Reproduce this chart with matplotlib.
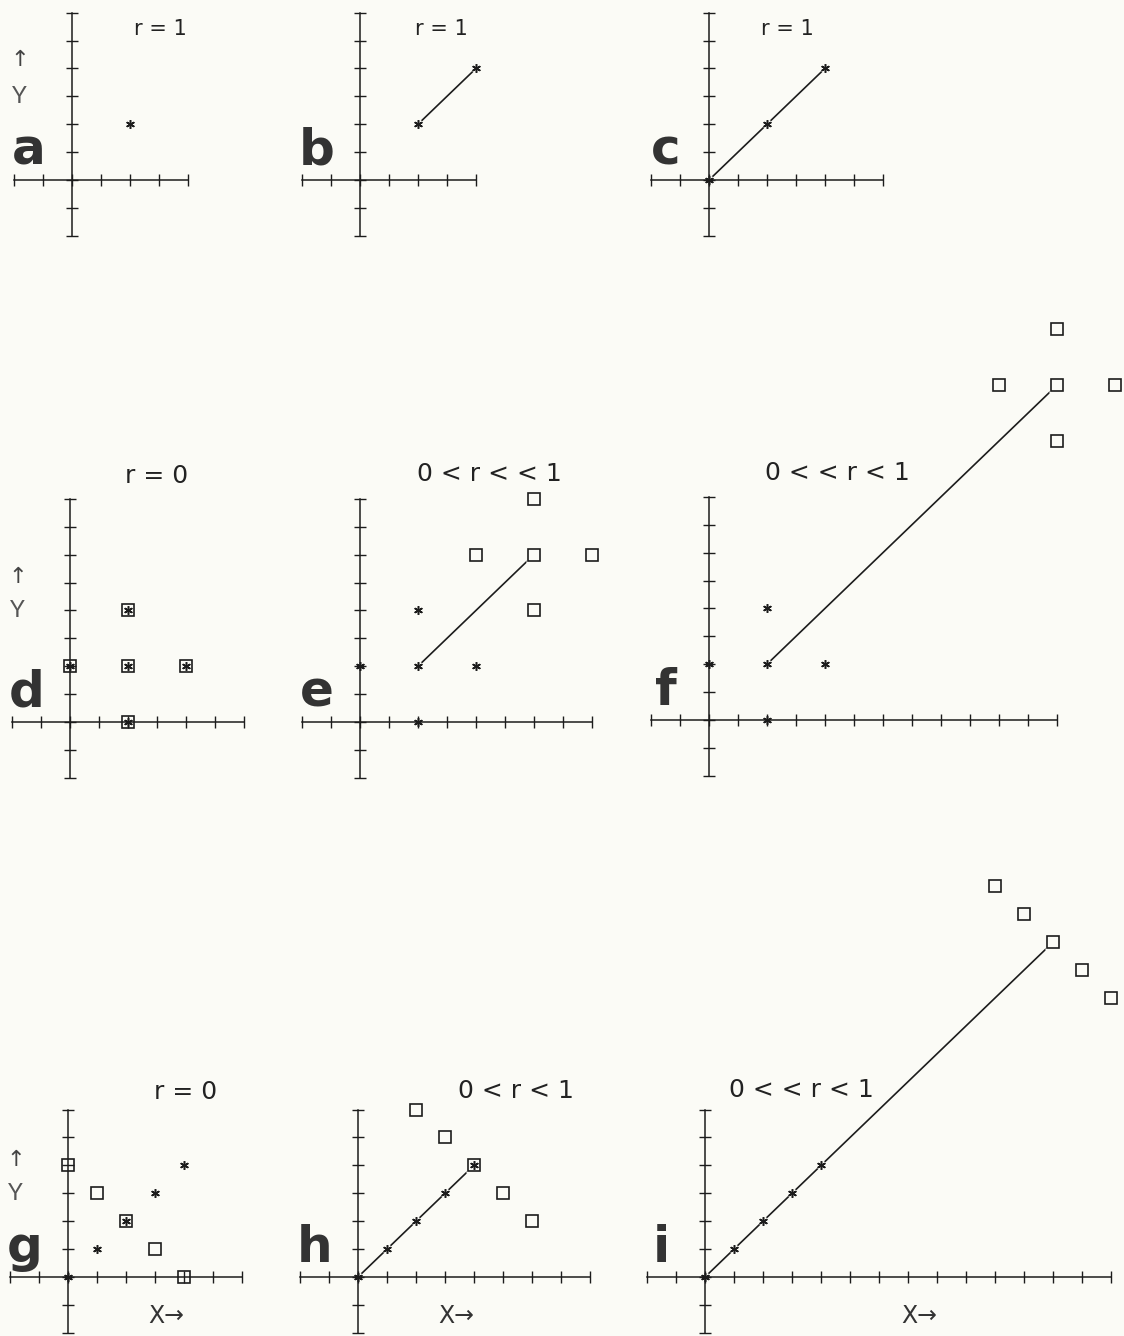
import matplotlib
matplotlib.use("Agg")
import matplotlib.pyplot as plt

# ---- data -------------------------------------------------------------
panel_letters = ["a", "b", "c", "d", "e", "f", "g", "h", "i"]
titles = ["r = 1", "r = 1", "r = 1",
          "r = 0", "0 < r < < 1", "0 < < r < 1",
          "r = 0", "0 < r < 1", "0 < < r < 1"]

# extent of the drawn X / Y axes (each runs from -2 up to this value)
x_extent = [4, 4, 6, 6, 8, 12, 6, 8, 14]
y_extent = [6, 6, 6, 8, 8, 8, 6, 6, 6]

# asterisk points
star_x = [[2], [2, 4], [0, 2, 4],
          [0, 2, 2, 2, 4], [0, 2, 2, 2, 4], [0, 2, 2, 2, 4],
          [0, 1, 2, 3, 4], [0, 1, 2, 3, 4], [0, 1, 2, 3, 4]]
star_y = [[2], [2, 4], [0, 2, 4],
          [2, 0, 2, 4, 2], [2, 0, 2, 4, 2], [2, 0, 2, 4, 2],
          [0, 1, 2, 3, 4], [0, 1, 2, 3, 4], [0, 1, 2, 3, 4]]

# open-square points
square_x = [[], [], [],
            [0, 2, 2, 2, 4], [4, 6, 6, 6, 8], [10, 12, 12, 12, 14],
            [0, 1, 2, 3, 4], [2, 3, 4, 5, 6], [10, 11, 12, 13, 14]]
square_y = [[], [], [],
            [2, 0, 2, 4, 2], [6, 4, 6, 8, 6], [12, 10, 12, 14, 12],
            [4, 3, 2, 1, 0], [6, 5, 4, 3, 2], [14, 13, 12, 11, 10]]

# regression line end points (None = no line)
line_x = [None, [2, 4], [0, 4], None, [2, 6], [2, 12], None, [0, 4], [0, 12]]
line_y = [None, [2, 4], [0, 4], None, [2, 6], [2, 12], None, [0, 4], [0, 12]]

# ---- layout -----------------------------------------------------------
W, H, DPI = 1124, 1336, 100
SX, SY = 29.0, 27.9          # pixels per unit
INK = "#1c1c1c"
BG = "#fbfbf6"

origins = [(72, 180), (360, 180), (709, 180),
           (70, 722), (360, 722), (709, 720),
           (68, 1277), (358, 1277), (705, 1277)]
title_pos = [(160, 29), (441, 29), (787, 29),
             (157, 476), (489, 474), (837, 473),
             (186, 1092), (516, 1091), (801, 1090)]
title_size = [15, 15, 15, 18, 18, 18, 18, 18, 18]

y_label_pos = {0: (4.3, 3.0), 3: (5.2, 4.0), 6: (4.2, 3.0)}
x_label_pos = {6: 3.4, 7: 3.4, 8: 7.4}

plt.rcParams["font.family"] = ["DejaVu Sans"]

fig = plt.figure(figsize=(W / DPI, H / DPI), dpi=DPI, facecolor=BG)

for k in range(9):
    ox, oy = origins[k]
    xmax, ymax = x_extent[k], y_extent[k]
    xlo, xhi = -2.8, xmax + 0.8
    ylo, yhi = -2.8, ymax + 0.8
    ax = fig.add_axes([(ox + xlo * SX) / W,
                       1 - (oy - ylo * SY) / H,
                       (xhi - xlo) * SX / W,
                       (yhi - ylo) * SY / H])
    ax.set_xlim(xlo, xhi)
    ax.set_ylim(ylo, yhi)
    ax.patch.set_visible(False)

    # cross-shaped axes with tick marks
    for s in ("top", "right"):
        ax.spines[s].set_visible(False)
    for s in ("left", "bottom"):
        ax.spines[s].set_position("zero")
        ax.spines[s].set_color(INK)
        ax.spines[s].set_linewidth(1.1)
        ax.spines[s].set_zorder(2.5)
    ax.spines["bottom"].set_bounds(-2, xmax)
    ax.spines["left"].set_bounds(-2, ymax)
    ax.set_xticks(range(-2, xmax + 1))
    ax.set_yticks(range(-2, ymax + 1))
    ax.tick_params(direction="inout", length=8, width=1.0, color=INK,
                   labelbottom=False, labelleft=False)

    sx, sy = star_x[k], star_y[k]
    qx, qy = square_x[k], square_y[k]

    # regression line, interrupted around the points it passes through
    if line_x[k] is not None:
        x0, x1 = line_x[k]
        ax.plot(line_x[k], line_y[k], color=INK, lw=1.2, zorder=1.2,
                solid_capstyle="butt", clip_on=False)
        on_star = [(x, y) for x, y in zip(sx, sy) if x == y and x0 <= x <= x1]
        on_sq = [(x, y) for x, y in zip(qx, qy) if x == y and x0 <= x <= x1]
        if on_star:
            hx, hy = zip(*on_star)
            ax.plot(hx, hy, "o", ms=7, color=BG, mec="none", zorder=1.5,
                    clip_on=False)
        if on_sq:
            hx, hy = zip(*on_sq)
            ax.plot(hx, hy, "s", ms=11, color=BG, mec="none", zorder=1.5,
                    clip_on=False)

    if qx:
        ax.plot(qx, qy, "s", ms=8.8, mfc="none", mec=INK, mew=1.2,
                zorder=3, clip_on=False)
    ax.plot(sx, sy, marker=(6, 2, 0), ls="none", ms=6.3, mec=INK, mew=1.1,
            zorder=3.2, clip_on=False)

    # panel letter
    ax.text(-1.5, 0.55, panel_letters[k], ha="center", va="baseline",
            fontsize=36, fontweight="bold", color="#333333")

    if k in y_label_pos:
        ya, yy = y_label_pos[k]
        ax.text(-1.8, ya, "\u2191", ha="center", va="center", fontsize=16,
                color="#444444")
        ax.text(-1.8, yy, "Y", ha="center", va="center", fontsize=17,
                color="#555555", family=["Lato", "DejaVu Sans"])
    if k in x_label_pos:
        ax.text(x_label_pos[k], -1.4, "X\u2192", ha="center", va="center",
                fontsize=17, color="#333333")

    tx, ty = title_pos[k]
    fig.text(tx / W, 1 - ty / H, titles[k], ha="center", va="center",
             fontsize=title_size[k], color="#222222")

fig.savefig("out.png", dpi=DPI, facecolor=BG)
